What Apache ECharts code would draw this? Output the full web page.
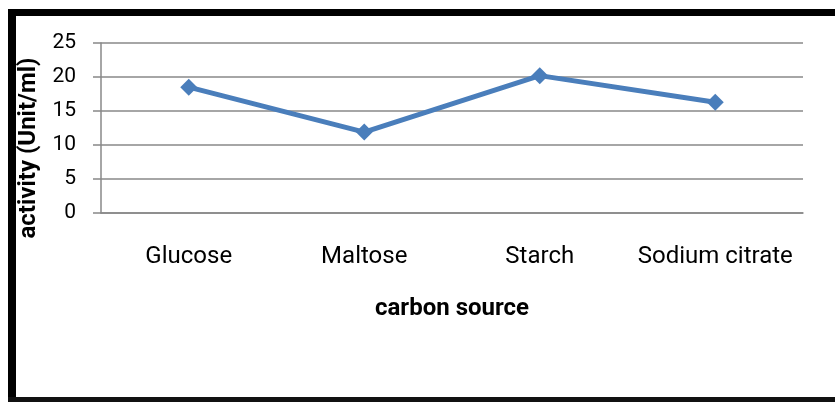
<!DOCTYPE html>
<html>
<head>
<meta charset="utf-8">
<script src="https://cdn.jsdelivr.net/npm/echarts@6/dist/echarts.min.js"></script>
<style>
html,body{margin:0;padding:0;background:#fff;}
#c{width:835px;height:402px;}
</style>
</head>
<body>
<div id="c"></div>
<script>
const categories = ["Glucose", "Maltose", "Starch", "Sodium citrate"];
const activity = [18.5, 11.9, 20.2, 16.3];
const yTicks = [0, 5, 10, 15, 20, 25];
const xTitle = "carbon source";
const yTitle = "activity (Unit/ml)";

const chart = echarts.init(document.getElementById('c'), null, {renderer: 'canvas'});
const gridColor = '#888888';
chart.setOption({
  animation: false,
  backgroundColor: '#ffffff',
  graphic: [
    {type: 'rect', shape: {x: 8, y: 9, width: 835, height: 7}, style: {fill: '#000'}},
    {type: 'rect', shape: {x: 8, y: 9, width: 8, height: 400}, style: {fill: '#000'}},
    {type: 'rect', shape: {x: 8, y: 397, width: 835, height: 5}, style: {fill: '#111'}}
  ],
  grid: {left: 101, right: 32, top: 43, bottom: 189, containLabel: false},
  xAxis: {
    type: 'category',
    data: categories,
    boundaryGap: true,
    axisLine: {show: true, lineStyle: {color: gridColor, width: 1.5}},
    axisTick: {show: false},
    axisLabel: {color: '#000', fontFamily: 'Roboto', fontSize: 24, margin: 32, interval: 0},
    name: xTitle,
    nameLocation: 'middle',
    nameGap: 84,
    nameTextStyle: {color: '#000', fontFamily: 'Roboto', fontWeight: 'bold', fontSize: 24}
  },
  yAxis: {
    type: 'value',
    min: yTicks[0],
    max: yTicks[yTicks.length - 1],
    interval: yTicks[1] - yTicks[0],
    axisLine: {show: true, lineStyle: {color: gridColor, width: 1.5}},
    axisTick: {show: true, length: 8, lineStyle: {color: gridColor, width: 1.5}},
    splitLine: {show: true, lineStyle: {color: gridColor, width: 1.5}},
    axisLabel: {color: '#000', fontFamily: 'Roboto', fontSize: 21, margin: 25},
    name: yTitle,
    nameLocation: 'middle',
    nameGap: 56,
    nameRotate: 90,
    nameTextStyle: {color: '#000', fontFamily: 'Roboto', fontWeight: 'bold', fontSize: 24, padding: [0, 40, 0, 0]}
  },
  series: [{
    type: 'line',
    data: activity,
    symbol: 'diamond',
    symbolSize: 17,
    showSymbol: true,
    lineStyle: {color: '#4A7EBB', width: 5},
    itemStyle: {color: '#4A7EBB'}
  }]
});
</script>
</body>
</html>
